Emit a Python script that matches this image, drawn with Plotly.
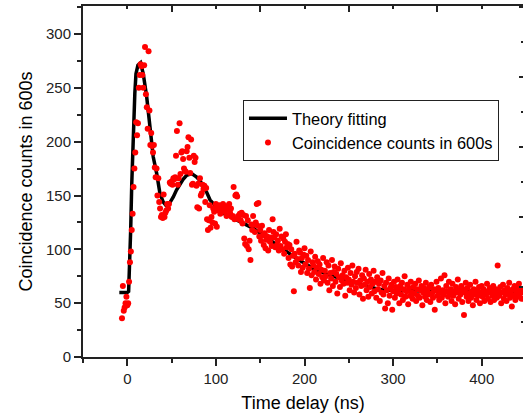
import plotly.graph_objects as go

# ---------------- data ----------------
time_ns = [-6, -5, -4, -3, -2, -1, 0, 1, 2, 3, 4, 5, 6, 7, 8, 9,
           10, 11, 12, 13, 14, 15, 16, 17, 18, 19, 20, 21, 22, 23, 24, 25, 26, 27, 28, 29,
           30, 31, 32, 33, 34, 35, 36, 37, 38, 39, 40, 41, 42, 43, 44, 45, 46, 47, 48, 49,
           50, 51, 52, 53, 54, 55, 56, 57, 58, 59, 60, 61, 62, 63, 64, 65, 66, 67, 68, 69,
           70, 71, 72, 73, 74, 75, 76, 77, 78, 79, 80, 81, 82, 83, 84, 85, 86, 87, 88, 89,
           90, 91, 92, 93, 94, 95, 96, 97, 98, 99, 100, 101, 102, 103, 104, 105, 106, 107, 108, 109,
           110, 111, 112, 113, 114, 115, 116, 117, 118, 119, 120, 121, 122, 123, 124, 125, 126, 127, 128, 129,
           130, 131, 132, 133, 134, 135, 136, 137, 138, 139, 140, 141, 142, 143, 144, 145, 146, 147, 148, 149,
           150, 151, 152, 153, 154, 155, 156, 157, 158, 159, 160, 161, 162, 163, 164, 165, 166, 167, 168, 169,
           170, 171, 172, 173, 174, 175, 176, 177, 178, 179, 180, 181, 182, 183, 184, 185, 186, 187, 188, 189,
           190, 191, 192, 193, 194, 195, 196, 197, 198, 199, 200, 201, 202, 203, 204, 205, 206, 207, 208, 209,
           210, 211, 212, 213, 214, 215, 216, 217, 218, 219, 220, 221, 222, 223, 224, 225, 226, 227, 228, 229,
           230, 231, 232, 233, 234, 235, 236, 237, 238, 239, 240, 241, 242, 243, 244, 245, 246, 247, 248, 249,
           250, 251, 252, 253, 254, 255, 256, 257, 258, 259, 260, 261, 262, 263, 264, 265, 266, 267, 268, 269,
           270, 271, 272, 273, 274, 275, 276, 277, 278, 279, 280, 281, 282, 283, 284, 285, 286, 287, 288, 289,
           290, 291, 292, 293, 294, 295, 296, 297, 298, 299, 300, 301, 302, 303, 304, 305, 306, 307, 308, 309,
           310, 311, 312, 313, 314, 315, 316, 317, 318, 319, 320, 321, 322, 323, 324, 325, 326, 327, 328, 329,
           330, 331, 332, 333, 334, 335, 336, 337, 338, 339, 340, 341, 342, 343, 344, 345, 346, 347, 348, 349,
           350, 351, 352, 353, 354, 355, 356, 357, 358, 359, 360, 361, 362, 363, 364, 365, 366, 367, 368, 369,
           370, 371, 372, 373, 374, 375, 376, 377, 378, 379, 380, 381, 382, 383, 384, 385, 386, 387, 388, 389,
           390, 391, 392, 393, 394, 395, 396, 397, 398, 399, 400, 401, 402, 403, 404, 405, 406, 407, 408, 409,
           410, 411, 412, 413, 414, 415, 416, 417, 418, 419, 420, 421, 422, 423, 424, 425, 426, 427, 428, 429,
           430, 431, 432, 433, 434, 435, 436, 437, 438, 439, 440, 441, 442, 443, 444, 445, 446]

counts = [36, 66, 43, 46, 50, 56, 48, 50, 70, 88, 98, 118, 133, 158, 175, 190,
          218, 206, 217, 250, 262, 272, 270, 262, 250, 271, 288, 244, 232, 212, 284, 229, 197, 208, 196, 190,
          197, 176, 167, 175, 150, 166, 144, 138, 130, 132, 129, 151, 130, 134, 136, 142, 138, 142, 162, 161,
          163, 160, 166, 165, 167, 187, 210, 160, 166, 217, 170, 190, 191, 184, 175, 173, 172, 191, 195, 204,
          185, 171, 202, 160, 161, 187, 181, 185, 159, 139, 161, 138, 166, 150, 152, 160, 156, 159, 144, 157,
          128, 118, 127, 141, 120, 130, 125, 138, 135, 124, 142, 121, 140, 136, 141, 133, 137, 139, 142, 135,
          140, 136, 131, 140, 138, 142, 134, 138, 130, 131, 158, 128, 150, 151, 149, 131, 128, 133, 127, 134,
          124, 132, 110, 105, 131, 103, 127, 100, 108, 90, 123, 118, 131, 123, 116, 125, 142, 122, 143, 112,
          118, 108, 122, 113, 104, 115, 101, 109, 112, 99, 118, 107, 111, 103, 128, 116, 111, 102, 114, 104,
          108, 99, 119, 103, 112, 100, 110, 96, 107, 114, 102, 105, 92, 104, 86, 100, 84, 94, 61, 96,
          88, 107, 91, 85, 99, 97, 79, 92, 83, 95, 101, 86, 94, 78, 90, 82, 64, 98, 76, 88,
          85, 79, 93, 72, 83, 89, 77, 86, 68, 81, 74, 92, 71, 80, 75, 88, 69, 85, 62, 78,
          73, 90, 66, 79, 84, 70, 77, 59, 82, 74, 65, 87, 71, 76, 68, 80, 57, 74, 69, 83,
          72, 62, 78, 67, 85, 70, 60, 75, 64, 79, 69, 82, 58, 71, 66, 76, 54, 73, 67, 81,
          62, 70, 56, 77, 65, 72, 59, 68, 80, 61, 70, 55, 74, 63, 68, 52, 71, 60, 78, 58,
          66, 45, 69, 62, 50, 73, 57, 64, 67, 44, 61, 70, 55, 65, 59, 72, 62, 50, 66, 58,
          69, 53, 63, 75, 56, 61, 67, 49, 64, 57, 70, 60, 54, 65, 59, 68, 52, 63, 57, 71,
          55, 62, 66, 48, 60, 64, 56, 69, 53, 61, 58, 65, 51, 67, 59, 55, 63, 44, 62, 70,
          57, 64, 53, 60, 73, 55, 62, 58, 76, 50, 66, 61, 56, 70, 59, 63, 52, 68, 57, 61,
          49, 65, 60, 72, 54, 62, 58, 66, 51, 63, 39, 60, 69, 56, 64, 52, 59, 67, 55, 61,
          48, 63, 58, 70, 53, 62, 57, 65, 50, 60, 66, 56, 63, 52, 61, 58, 68, 54, 60, 64,
          51, 62, 57, 66, 53, 59, 63, 55, 85, 61, 57, 65, 50, 60, 67, 54, 62, 58, 52, 64,
          59, 69, 55, 61, 47, 63, 57, 66, 53, 60, 64, 56, 68, 59, 62, 54, 60]

fit_time = [-9, -5, 0, 1.5, 2.5, 3.8, 5, 6.8, 8.5, 9.8, 12, 15, 18, 21.9, 25.6, 29.3,
            33.2, 36.9, 40.6, 43.5, 46.3, 49, 51.9, 55.5, 59.5, 63, 67, 72.7, 78.3, 82,
            85.8, 89.6, 93.3, 97.1, 100.9, 108.4, 112.2, 119.6, 127.2, 134.8, 142.2, 153.5,
            172.3, 191.2, 209.9, 228.8, 247.6, 266.4, 285.2, 300, 322.8, 360, 398, 446.7]
fit_counts = [60, 60, 60, 61, 80, 117.6, 160, 210.5, 245, 263, 271, 273.3, 263, 241.4, 210.5, 185.7,
              170.3, 151.7, 143.9, 141, 140.9, 144, 148.6, 155, 161, 165, 168.7, 170.3, 167, 164,
              158, 153, 146, 142, 139, 133.5, 132, 128.5, 126, 122.3, 119.5, 113,
              102.1, 91.4, 82.1, 75.9, 71.2, 66.6, 62.6, 61.8, 61.3, 60.8, 60.4, 61]

x_ticks = [0, 100, 200, 300, 400]
y_ticks = [0, 50, 100, 150, 200, 250, 300]

# ---------------- figure ----------------
FONT = "Arial, Liberation Sans, sans-serif"
AX = "#222222"

fig = go.Figure()
fig.add_trace(go.Scatter(
    x=fit_time, y=fit_counts, mode="lines", name="Theory fitting",
    line=dict(color="black", width=3.5)))
fig.add_trace(go.Scatter(
    x=time_ns, y=counts, mode="markers", name="Coincidence counts in 600s",
    marker=dict(color="#ff0000", size=6, line=dict(width=0))))

# empty trace to activate the mirror axes
fig.add_trace(go.Scatter(x=[None], y=[None], xaxis="x2", yaxis="y2", showlegend=False))

fig.update_layout(
    width=523, height=417,
    margin=dict(l=83, r=0, t=6, b=60),
    paper_bgcolor="white", plot_bgcolor="white",
    font=dict(family=FONT, color=AX, size=15),
    showlegend=True,
    legend=dict(
        x=0.3636, y=0.732, xanchor="left", yanchor="top",
        bgcolor="white", bordercolor="#222222", borderwidth=1,
        font=dict(family=FONT, size=16.4, color="black"),
        tracegroupgap=0, itemwidth=38),
    xaxis=dict(
        range=[-50, 446.6], tickvals=x_ticks, ticks="outside", ticklen=7, tickwidth=1.5,
        tickcolor=AX, showline=True, linecolor=AX, linewidth=2, showgrid=False, zeroline=False,
        minor=dict(tickvals=[-50, 50, 150, 250, 350], ticks="outside", ticklen=4,
                   tickwidth=1.5, tickcolor=AX, showgrid=False),
        tickfont=dict(size=15),
        title=dict(text="Time delay (ns)", font=dict(size=18, color="black"), standoff=10)),
    yaxis=dict(
        range=[0, 326], tickvals=y_ticks, ticks="outside", ticklen=7, tickwidth=1.5,
        tickcolor=AX, showline=True, linecolor=AX, linewidth=2, showgrid=False, zeroline=False,
        minor=dict(tickvals=[25, 75, 125, 175, 225, 275, 325], ticks="outside", ticklen=4,
                   tickwidth=1.5, tickcolor=AX, showgrid=False),
        tickfont=dict(size=15),
        title=dict(text="Coincidence counts in 600s", font=dict(size=18, color="black"),
                   standoff=9)),
    xaxis2=dict(
        overlaying="x", side="top", range=[-50, 446.6], showticklabels=False,
        tickvals=[50, 150, 250, 350], ticks="inside", ticklen=6, tickwidth=1.5, tickcolor=AX,
        showline=True, linecolor=AX, linewidth=1.5, showgrid=False, zeroline=False,
        minor=dict(tickvals=[0, 100, 200, 300, 400], ticks="inside", ticklen=3,
                   tickwidth=1.5, tickcolor=AX, showgrid=False)),
    yaxis2=dict(
        overlaying="y", side="right", range=[0, 326], showticklabels=False,
        tickvals=[65, 130, 195, 260, 325], ticks="inside", ticklen=4, tickwidth=1.5, tickcolor=AX,
        showline=False, showgrid=False, zeroline=False,
        minor=dict(tickvals=[32.5, 97.5, 162.5, 227.5, 292.5], ticks="inside", ticklen=2,
                   tickwidth=1.5, tickcolor=AX, showgrid=False)),
)

fig.write_html("out.html")
